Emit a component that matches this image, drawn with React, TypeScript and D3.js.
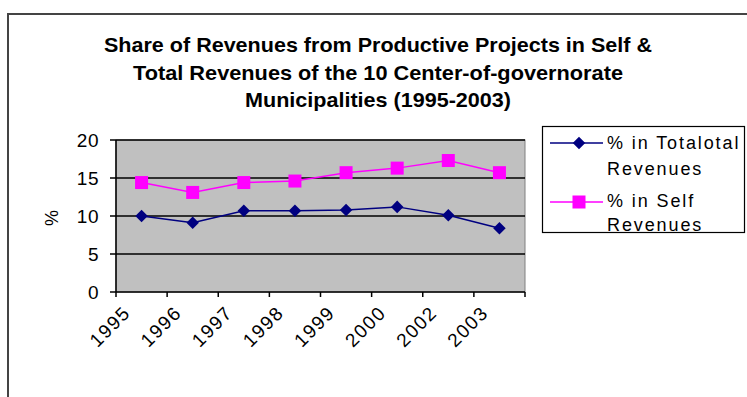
import React from "react";
import * as d3 from "d3";

const categories = ["1995", "1996", "1997", "1998", "1999", "2000", "2002", "2003"];
const totalValues = [10.0, 9.1, 10.7, 10.7, 10.8, 11.2, 10.1, 8.4];
const selfValues = [14.4, 13.1, 14.4, 14.6, 15.7, 16.3, 17.3, 15.7];
const yTicks = [0, 5, 10, 15, 20];
const titleLines = [
  "Share of Revenues from Productive Projects in Self &",
  "Total  Revenues of the 10  Center-of-governorate",
  "Municipalities (1995-2003)",
];
const seriesNames = [["% in Totalotal", "Revenues"], ["% in Self", "Revenues"]];

export default function App() {
  const W = 747, H = 397;
  const left = 116, right = 525, top = 140, bottom = 292;
  const x = d3.scaleBand().domain(categories).range([left, right]);
  const y = d3.scaleLinear().domain([0, 20]).range([bottom, top]);
  const cx = (c: string) => (x(c) as number) + x.bandwidth() / 2;
  const line = d3.line<number>().x((_, i) => cx(categories[i])).y((d) => y(d));
  const font = "Liberation Sans, Arial, sans-serif";
  const diamond = d3.symbol().type(d3.symbolDiamond2 ?? d3.symbolDiamond).size(100)();
  const titleWidths = [548, 490, 266];
  return (
    <svg width={W} height={H} style={{ position: "absolute", left: 0, top: 0 }} fontFamily={font}>
      <rect x={0} y={0} width={W} height={H} fill="#fff" />
      <rect x={8} y={14} width={W + 10} height={H + 10} fill="#fff" stroke="#444" strokeWidth={2} />
      {titleLines.map((t, i) => (
        <text key={i} x={378} y={52 + i * 27.5} textAnchor="middle" fontWeight="bold" fontSize={20.5} fill="#000"
          textLength={titleWidths[i]} lengthAdjust="spacingAndGlyphs">
          {t}
        </text>
      ))}
      <rect x={left} y={top} width={right - left} height={bottom - top} fill="#c0c0c0" stroke="#808080" strokeWidth={1} />
      {yTicks.filter((t) => t > 0).map((t) => (
        <line key={t} x1={left} x2={right} y1={y(t)} y2={y(t)} stroke="#000" strokeWidth={1.5} />
      ))}
      <line x1={left} x2={left} y1={top} y2={bottom} stroke="#000" strokeWidth={1.5} />
      <line x1={left} x2={right} y1={bottom} y2={bottom} stroke="#000" strokeWidth={1.5} />
      {yTicks.map((t) => (
        <g key={t}>
          <line x1={left - 6} x2={left} y1={y(t)} y2={y(t)} stroke="#000" strokeWidth={1.5} />
          <text x={99} y={y(t) + 7} textAnchor="end" fontSize={19} letterSpacing={0.5} fill="#000">{t}</text>
        </g>
      ))}
      {[...categories.map((c) => x(c) as number), right].map((px, i) => (
        <line key={i} x1={px} x2={px} y1={bottom} y2={bottom + 5} stroke="#000" strokeWidth={1.5} />
      ))}
      {categories.map((c) => (
        <text key={c} transform={`translate(${cx(c) - 10},${bottom + 22}) rotate(-45)`} textAnchor="end" fontSize={19} letterSpacing={1.5} fill="#000">
          {c}
        </text>
      ))}
      <text transform={`translate(58,218) rotate(-90)`} textAnchor="middle" fontSize={18} fill="#000">%</text>
      <path d={line(totalValues) ?? ""} fill="none" stroke="#000080" strokeWidth={1.5} />
      <path d={line(selfValues) ?? ""} fill="none" stroke="#ff00ff" strokeWidth={1.5} />
      {totalValues.map((v, i) => (
        <path key={i} d={diamond ?? ""} transform={`translate(${cx(categories[i])},${y(v)})`} fill="#000080" />
      ))}
      {selfValues.map((v, i) => (
        <rect key={i} x={cx(categories[i]) - 6.5} y={y(v) - 6.5} width={13} height={13} fill="#ff00ff" />
      ))}
      <rect x={542.5} y={126.5} width={202} height={106} fill="#fff" stroke="#000" strokeWidth={1.2} />
      <line x1={550} x2={603} y1={143} y2={143} stroke="#000080" strokeWidth={1.5} />
      <path d={diamond ?? ""} transform="translate(579,143)" fill="#000080" />
      <line x1={550} x2={603} y1={202} y2={202} stroke="#ff00ff" strokeWidth={1.5} />
      <rect x={572.5} y={195.5} width={13} height={13} fill="#ff00ff" />
      {seriesNames.map((lines, si) =>
        lines.map((t, li) => (
          <text key={`${si}-${li}`} x={607} y={[[149, 175], [207, 231]][si][li]} fontSize={18} letterSpacing={1.9} fill="#000">{t}</text>
        ))
      )}
    </svg>
  );
}
